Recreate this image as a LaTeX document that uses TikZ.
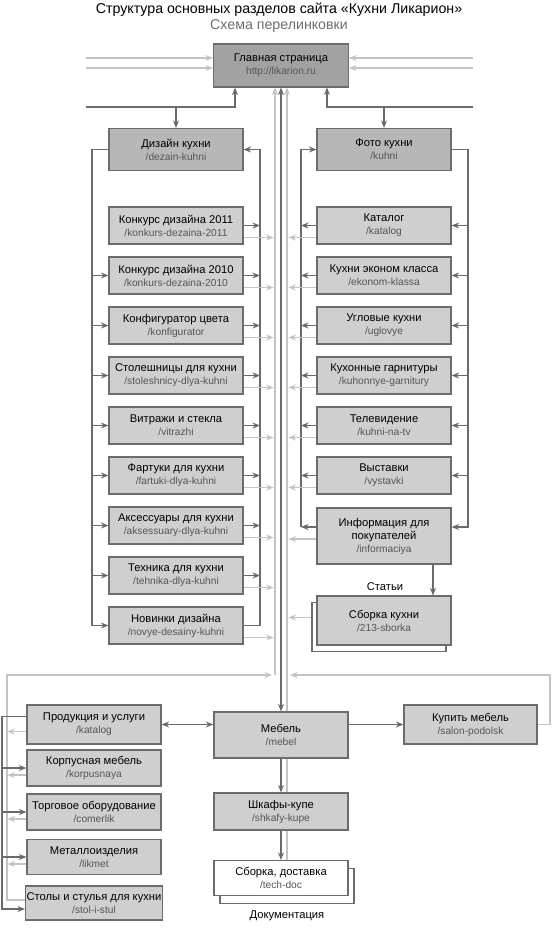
\documentclass[tikz,border=0pt]{standalone}
\usepackage{fontspec}
\setmainfont{Liberation Sans}
\usetikzlibrary{arrows.meta,positioning,calc,backgrounds}

\definecolor{boxline}{HTML}{6C6C6C}
\definecolor{homefill}{HTML}{A2A2A2}
\definecolor{secfill}{HTML}{B7B7B7}
\definecolor{pagefill}{HTML}{CFCFCF}
\definecolor{darklink}{HTML}{6A6A6A}
\definecolor{lightlink}{HTML}{C4C4C4}
\definecolor{urlgray}{HTML}{555555}

\newcommand{\adr}[1]{{\fontsize{10.2}{13}\selectfont\color{urlgray}#1}}

\tikzset{
  >={Stealth[length=7.5pt,width=6pt]},
  pagebox/.style={draw=boxline, line width=1.2pt, fill=pagefill, minimum width=134pt,
    minimum height=37pt, inner sep=1pt, align=center, font=\fontsize{11.2}{13}\selectfont},
  secbox/.style={pagebox, fill=secfill, minimum height=42pt},
  homebox/.style={pagebox, fill=homefill, minimum width=135pt, minimum height=43pt},
  docbox/.style={pagebox, fill=white},
  dlink/.style={draw=darklink, line width=1.8pt, ->},
  llink/.style={draw=lightlink, line width=1.5pt, ->},
}

\begin{document}
\begin{tikzpicture}[x=1pt,y=-1pt]
\useasboundingbox (0,0) rectangle (557,928);

% titles
\node[font=\fontsize{14.2}{16}\selectfont] (title) at (279,10) {Структура основных разделов сайта «Кухни Ликарион»};
\node[font=\fontsize{14.2}{16}\selectfont, text=urlgray!85] (subtitle) at (279,26) {Схема перелинковки};

% top level
\node[homebox] (home) at (281,65.5) {Главная страница\\\adr{http://likarion.ru}};
\node[secbox] (dizayn) at (176,149.5) {Дизайн кухни\\\adr{/dezain-kuhni}};
\node[secbox] (foto) at (384,149.5) {Фото кухни\\\adr{/kuhni}};

% design column
\foreach \i/\t/\u in {1/Конкурс дизайна 2011/konkurs-dezaina-2011,
    2/Конкурс дизайна 2010/konkurs-dezaina-2010,
    3/Конфигуратор цвета/konfigurator,
    4/Столешницы для кухни/stoleshnicy-dlya-kuhni,
    5/Витражи и стекла/vitrazhi,
    6/Фартуки для кухни/fartuki-dlya-kuhni,
    7/Аксессуары для кухни/aksessuary-dlya-kuhni,
    8/Техника для кухни/tehnika-dlya-kuhni,
    9/Новинки дизайна/novye-desainy-kuhni}
  \node[pagebox] (l\i) at (176,175.5+50*\i) {\t\\\adr{/\u}};

% photo column
\foreach \i/\t/\u in {1/Каталог/katalog,
    2/Кухни эконом класса/ekonom-klassa,
    3/Угловые кухни/uglovye,
    4/Кухонные гарнитуры/kuhonnye-garnitury,
    5/Телевидение/kuhni-na-tv,
    6/Выставки/vystavki}
  \node[pagebox] (r\i) at (384,175.5+50*\i) {\t\\\adr{/\u}};
\node[pagebox, minimum height=56pt] (info) at (384,536) {Информация для\\покупателей\\\adr{/informaciya}};
\node (stati) at (385,587) {\fontsize{11.2}{13}\selectfont Статьи};
\node[docbox, minimum height=49pt] (sborkash) at (379,627) {};
\node[pagebox, minimum height=49pt] (sborka) at (384,620.5) {Сборка кухни\\\adr{/213-sborka}};

% furniture part
\node[pagebox, minimum height=46pt] (mebel) at (281,735) {Мебель\\\adr{/mebel}};
\node[pagebox, minimum height=39pt] (prod) at (94,724.5) {Продукция и услуги\\\adr{/katalog}};
\node[pagebox, minimum height=39pt, minimum width=133pt] (kupit) at (470.5,724.5) {Купить мебель\\\adr{/salon-podolsk}};
\node[pagebox, minimum height=36pt] (korp) at (94,768) {Корпусная мебель\\\adr{/korpusnaya}};
\node[pagebox, minimum height=36pt] (torg) at (94,812) {Торговое оборудование\\\adr{/comerlik}};
\node[pagebox, minimum height=35pt] (metal) at (94,857) {Металлоизделия\\\adr{/likmet}};
\node[pagebox, minimum height=34pt] (stol) at (94,903) {Столы и стулья для кухни\\\adr{/stol-i-stul}};
\node[pagebox] (shkaf) at (281,811.5) {Шкафы-купе\\\adr{/shkafy-kupe}};
\node[docbox, minimum height=35pt] (sbdostsh) at (287,886) {};
\node[docbox, minimum height=35pt] (sbdost) at (281,878) {Сборка, доставка\\\adr{/tech-doc}};
\node (docs) at (287,916) {\fontsize{11.2}{13}\selectfont Документация};

% bus lines and loose ends
\coordinate (lbus) at (92,0);
\coordinate (rbus) at (260,0);
\coordinate (fbus) at (301,0);
\coordinate (gbus) at (468,0);
\coordinate (dbus) at (2,0);
\coordinate (inL) at (86,107);
\coordinate (inR) at (473,107);
\coordinate (inL1) at (86,58);
\coordinate (inL2) at (86,68);
\coordinate (inR1) at (473,58);
\coordinate (inR2) at (473,68);
\coordinate (lbot) at (275,675);
\coordinate (rbot) at (287,675);
\coordinate (lgate) at (7,675);
\coordinate (rgate) at (550,675);
\coordinate (infoL) at ([yshift=9pt]info.west);
\coordinate (infoR) at ([yshift=9pt]info.east);
\coordinate (prodD) at ([yshift=8pt]prod.west);
\coordinate (stolD) at ([yshift=-6pt]stol.west);

\begin{pgfonlayer}{background}
% into the main page
\draw[llink] (inL1) -- (inL1 -| home.west);
\draw[llink] (inL2) -- (inL2 -| home.west);
\draw[llink] (inR1) -- (inR1 -| home.east);
\draw[llink] (inR2) -- (inR2 -| home.east);
\draw[dlink] (inL) -| ([xshift=-46pt]home.south);
\draw[dlink] (inR) -| ([xshift=46pt]home.south);
\draw[dlink] (dizayn.north |- inL) -- (dizayn.north);
\draw[dlink] (foto.north |- inR) -- (foto.north);

% design column
\draw[dlink] (dizayn.west) -| (lbus |- l9.west) -- (l9.west);
\foreach \i in {2,...,8} \draw[dlink] (lbus |- l\i.west) -- (l\i.west);
\draw[dlink] (l9.east) -| (rbus |- dizayn.east) -- (dizayn.east);
\foreach \i in {1,...,8} \draw[dlink] (l\i.east) -- (l\i.east -| rbus);
\foreach \i in {1,...,9} \draw[llink] ([yshift=-12pt]l\i.east) -- ++(30,0);

% photo column
\draw[dlink] (infoL) -- (fbus |- infoL);
\draw[dlink] (fbus |- infoL) |- (foto.west);
\draw[dlink] (foto.east) -| (gbus |- infoR) -- (infoR);
\foreach \i in {1,...,6} \draw[dlink] (r\i.west) -- (r\i.west -| fbus);
\foreach \i in {1,...,6} \draw[dlink] (gbus |- r\i.east) -- (r\i.east);
\foreach \i in {1,...,6} \draw[llink] ([yshift=-12pt]r\i.west) -- ++(-28,0);
\draw[llink] ([yshift=-3pt]info.west) -- ++(-28,0);
\draw[llink] ([yshift=3pt]sborka.west) -- ++(-28,0);
\draw[dlink] ([xshift=49pt]info.south) -- ([xshift=49pt]sborka.north);

% centre
\draw[dlink,<->] (mebel.north) -- (home.south);
\draw[llink] (lbot) -- (lbot |- home.south);
\draw[llink] ([xshift=6pt]sbdost.north) -- ([xshift=6pt]home.south);
\draw[llink] ([yshift=3pt]stol.west) -| (lgate) -- ([xshift=-3pt]lbot);
\draw[llink] (kupit.east) -| (rgate) -- ([xshift=3pt]rbot);

% furniture
\draw[dlink,<->] (prod.east) -- (prod.east -| mebel.west);
\draw[dlink] (kupit.west -| mebel.east) -- (kupit.west);
\draw[dlink] (mebel.south) -- (shkaf.north);
\draw[dlink] (shkaf.south) -- (sbdost.north);
\draw[dlink] (prodD) -| (dbus |- stolD) -- (stolD);
\foreach \n in {korp,torg,metal} \draw[dlink] (dbus |- \n.west) -- (\n.west);
\foreach \n in {prod,korp,torg,metal} \draw[llink] ([yshift=-7pt]\n.west) -- ++(-19,0);
\end{pgfonlayer}
\end{tikzpicture}
\end{document}
